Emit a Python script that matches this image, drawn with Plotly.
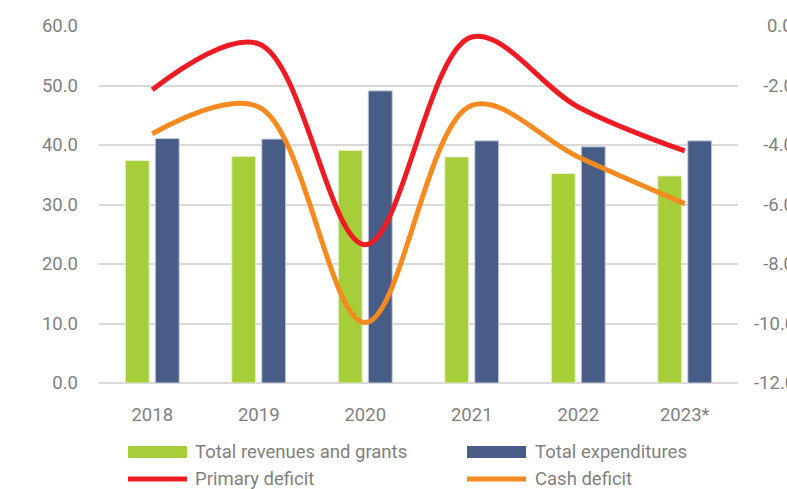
import plotly.graph_objects as go

years = ["2018", "2019", "2020", "2021", "2022", "2023*"]
revenues = [37.4, 38.1, 39.1, 38.0, 35.2, 34.8]
expenditures = [41.1, 41.0, 49.1, 40.7, 39.7, 40.7]
primary_deficit = [-2.14, -0.6, -7.35, -0.37, -2.72, -4.2]
cash_deficit = [-3.62, -2.72, -9.97, -2.67, -4.4, -5.97]

left_ticks = [0, 10, 20, 30, 40, 50, 60]
right_ticks = [-12, -10, -8, -6, -4, -2, 0]

names = ["Total revenues and grants", "Total expenditures", "Primary deficit", "Cash deficit"]
colors = ["#A6CE39", "#485C88", "#ED1C24", "#F58A1F"]

FONT = "Roboto"
FS = 18.5
GRAY = "#7F7F7F"
W, H = 787, 489
ML, MR, MT, MB = 99, 49, 26, 106
PW, PH = W - ML - MR, H - MT - MB

def px_x(x):
    return (x - ML) / PW

def px_y(y):
    return (H - MB - y) / PH

fig = go.Figure()
fig.add_trace(go.Bar(x=years, y=revenues, name=names[0], marker=dict(color=colors[0], line=dict(color="#E8F0D0", width=1)), yaxis="y"))
fig.add_trace(go.Bar(x=years, y=expenditures, name=names[1], marker=dict(color=colors[1], line=dict(color="#C8D0E0", width=1)), yaxis="y"))
fig.add_trace(go.Scatter(x=years, y=primary_deficit, name=names[2], mode="lines", line=dict(color=colors[2], width=5, shape="spline", smoothing=1.0), yaxis="y2"))
fig.add_trace(go.Scatter(x=years, y=cash_deficit, name=names[3], mode="lines", line=dict(color=colors[3], width=5, shape="spline", smoothing=1.0), yaxis="y2"))

# right labels padded (non-breaking spaces) so they appear right-aligned
nb = "\u00a0"
right_text = []
for v in right_ticks:
    s = f"{v:.1f}"
    if v == 0:
        s = nb * 2 + "\u2009" + s
    elif v > -10:
        s = nb * 2 + s
    right_text.append(s)

fig.update_layout(
    width=W, height=H,
    margin=dict(l=ML, r=MR, t=MT, b=MB, autoexpand=False),
    paper_bgcolor="white", plot_bgcolor="white",
    barmode="group", bargap=0.437, bargroupgap=0.2,
    showlegend=False,
    font=dict(family=FONT, size=FS, color=GRAY),
    xaxis=dict(showgrid=False, showline=False, ticks="", tickfont=dict(size=FS, color=GRAY), ticklabelstandoff=18, automargin=False),
    yaxis=dict(range=[0, 60], tickvals=left_ticks, ticktext=[f"{v:.1f}" for v in left_ticks],
               showgrid=True, gridcolor="#D9D9D9", gridwidth=2, zeroline=True, zerolinecolor="#D9D9D9", zerolinewidth=2,
               showline=False, ticks="", ticklabelstandoff=20, tickfont=dict(size=FS, color=GRAY), automargin=False),
    yaxis2=dict(range=[-12, 0], overlaying="y", side="right", tickvals=right_ticks, ticktext=right_text,
                showgrid=False, zeroline=False, showline=False, ticks="", ticklabelstandoff=15,
                tickfont=dict(size=FS, color=GRAY), automargin=False),
)

# manual legend
rows = [452, 479]
cols = [(128, 187, 193), (467, 526, 533)]
shapes = []
annotations = []
for i, name in enumerate(names):
    r = rows[i // 2]
    x0, x1, tx = cols[i % 2]
    if i < 2:
        shapes.append(dict(type="rect", xref="paper", yref="paper", x0=px_x(x0), x1=px_x(x1),
                           y0=px_y(r + 6), y1=px_y(r - 6), fillcolor=colors[i], line=dict(width=0)))
    else:
        shapes.append(dict(type="line", xref="paper", yref="paper", x0=px_x(x0), x1=px_x(x1),
                           y0=px_y(r), y1=px_y(r), line=dict(color=colors[i], width=5)))
    annotations.append(dict(text=name, xref="paper", yref="paper", x=px_x(tx), y=px_y(r),
                            xanchor="left", yanchor="middle", showarrow=False,
                            font=dict(family=FONT, size=FS, color=GRAY)))
fig.update_layout(shapes=shapes, annotations=annotations)

fig.write_html("out.html", config={"displayModeBar": False},
               post_script="document.body.style.margin='0';document.body.style.overflow='hidden';")
